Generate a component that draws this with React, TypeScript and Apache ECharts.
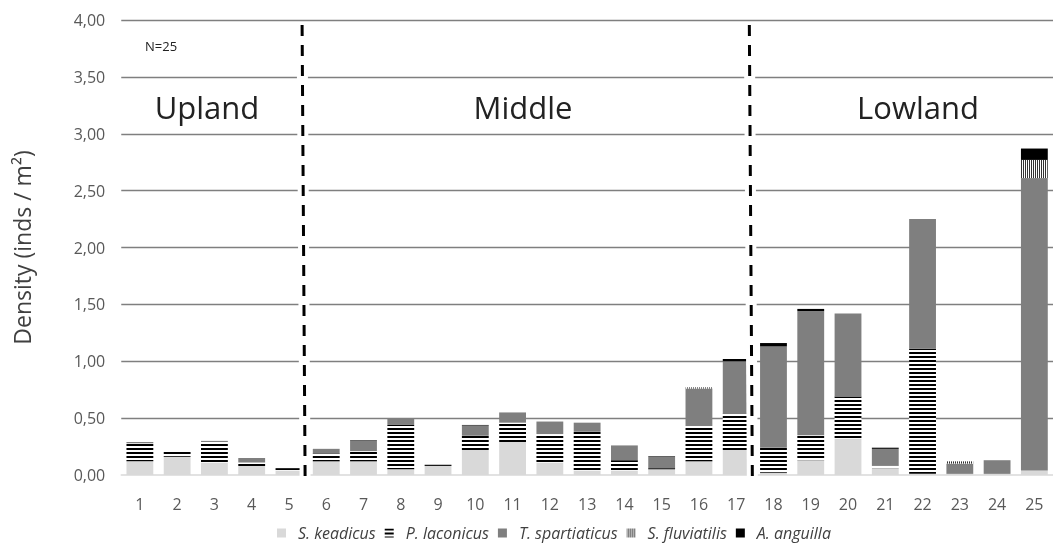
import React, { useEffect, useRef } from "react";
import * as echarts from "echarts";

const categories = ["1","2","3","4","5","6","7","8","9","10","11","12","13","14","15","16","17","18","19","20","21","22","23","24","25"];
const keadicus =     [0.12,0.16,0.11,0.08,0.04, 0.12,0.12,0.05,0.08,0.22, 0.29,0.11,0.04,0.04,0.05, 0.12,0.22,0.02,0.13,0.32, 0.06,0.01,0.01,0.01,0.04];
const laconicus =    [0.16,0.05,0.18,0.03,0.02, 0.07,0.09,0.39,0.01,0.125, 0.17,0.25,0.34,0.09,0.01, 0.31,0.32,0.22,0.22,0.37, 0.02,1.10,0,0,0];
const spartiaticus = [0.01,0,0.01,0.04,0, 0.04,0.09,0.06,0,0.09, 0.09,0.11,0.08,0.13,0.10, 0.33,0.46,0.89,1.09,0.73, 0.15,1.14,0.09,0.12,2.57];
const fluviatilis =  [0,0,0,0,0, 0,0,0,0,0, 0,0,0,0,0, 0.01,0,0,0,0, 0,0,0.02,0,0.16];
const anguilla =     [0,0,0,0,0, 0,0.005,0,0,0.005, 0,0,0,0,0.005, 0,0.02,0.03,0.02,0, 0.01,0,0,0,0.10];

const seriesNames = ["S. keadicus","P. laconicus","T. spartiaticus","S. fluviatilis","A. anguilla"];
const regionLabels = ["Upland","Middle","Lowland"];
const nLabel = "N=25";
const dividerAfter = [4, 16]; // indices after which region boundaries fall
const yTitle = "Density (inds / m²)";

export default function App() {
  const ref = useRef<HTMLDivElement>(null);
  useEffect(() => {
    if (!ref.current) return;
    const chart = echarts.init(ref.current, null, { renderer: "svg" });
    const font = "Open Sans";
    const option: any = {
      animation: false,
      textStyle: { fontFamily: font },
      grid: { left: 121.25, top: 20, width: 937.5, height: 455 },
      xAxis: {
        type: "category",
        data: categories,
        axisTick: { show: false },
        axisLine: { lineStyle: { color: "#d9d9d9", width: 1.5 } },
        axisLabel: { color: "#595959", fontSize: 16, margin: 21, fontFamily: font },
      },
      yAxis: {
        type: "value",
        min: 0,
        max: 4,
        interval: 0.5,
        axisLabel: {
          formatter: (v: number) => v.toFixed(2).replace(".", ","),
          color: "#595959",
          fontSize: 16,
          margin: 16,
          fontFamily: font,
        },
        splitLine: { showMinLine: false, lineStyle: { color: "#7f7f7f", width: 1.3 } },
        name: yTitle,
        nameLocation: "middle",
        nameGap: 88,
        nameTextStyle: { fontSize: 23, color: "#404040", fontFamily: font },
      },
      legend: {
        left: 277,
        top: 525,
        padding: 0,
        itemWidth: 9,
        itemHeight: 9,
        itemGap: 9,
        icon: "rect",
        data: seriesNames,
        textStyle: { fontStyle: "italic", fontSize: 16, lineHeight: 16, color: "#404040", fontFamily: font, padding: [0, 0, 0, 7] },
      },
      series: [
        {
          name: seriesNames[0], type: "bar", stack: "a", barCategoryGap: "28%",
          data: keadicus, itemStyle: { color: "#d9d9d9" },
        },
        {
          name: seriesNames[1], type: "bar", stack: "a",
          data: laconicus,
          itemStyle: {
            color: "#ffffff",
            decal: { symbol: "rect", symbolSize: 1, color: "#000000", dashArrayX: [1, 0], dashArrayY: [2, 1.6], rotation: 0 },
          },
        },
        {
          name: seriesNames[2], type: "bar", stack: "a",
          data: spartiaticus, itemStyle: { color: "#7f7f7f" },
        },
        {
          name: seriesNames[3], type: "bar", stack: "a",
          data: fluviatilis,
          itemStyle: {
            color: "#ffffff",
            decal: { symbol: "rect", symbolSize: 1, color: "#333333", dashArrayX: [1, 0], dashArrayY: [1, 1], rotation: Math.PI / 2 },
          },
        },
        {
          name: seriesNames[4], type: "bar", stack: "a",
          data: anguilla, itemStyle: { color: "#000000" },
        },
      ],
    };
    chart.setOption(option);

    const graphics: any[] = [];
    const yTop = chart.convertToPixel({ yAxisIndex: 0 }, 4);
    const yBot = chart.convertToPixel({ yAxisIndex: 0 }, 0);
    dividerAfter.forEach((i) => {
      const a = chart.convertToPixel({ xAxisIndex: 0 }, i) as number;
      const b = chart.convertToPixel({ xAxisIndex: 0 }, i + 1) as number;
      const x = (a + b) / 2;
      graphics.push({
        type: "line", z: 10,
        shape: { x1: x - 5.5, y1: yTop + 5, x2: x - 2.5, y2: yBot + 1 },
        style: { stroke: "#ffffff", lineWidth: 11 },
      });
      graphics.push({
        type: "line", z: 11,
        shape: { x1: x - 5.5, y1: yTop + 5, x2: x - 2.5, y2: yBot + 1 },
        style: { stroke: "#000000", lineWidth: 3, lineDash: [11, 9] },
      });
    });
    const regionX = [207, 523, 918];
    regionLabels.forEach((t, i) => {
      graphics.push({
        type: "text", z: 12, x: regionX[i], y: 107,
        style: { text: t, font: `31px "${font}"`, fill: "#222222", textAlign: "center", textVerticalAlign: "middle" },
      });
    });
    graphics.push({
      type: "text", z: 12, x: 145, y: 46,
      style: { text: nLabel, font: `13px "${font}"`, fill: "#222222", textAlign: "left", textVerticalAlign: "middle" },
    });
    chart.setOption({ graphic: graphics });

    return () => chart.dispose();
  }, []);
  return <div ref={ref} style={{ position: "fixed", left: 0, top: 0, width: 1053, height: 544 }} />;
}
